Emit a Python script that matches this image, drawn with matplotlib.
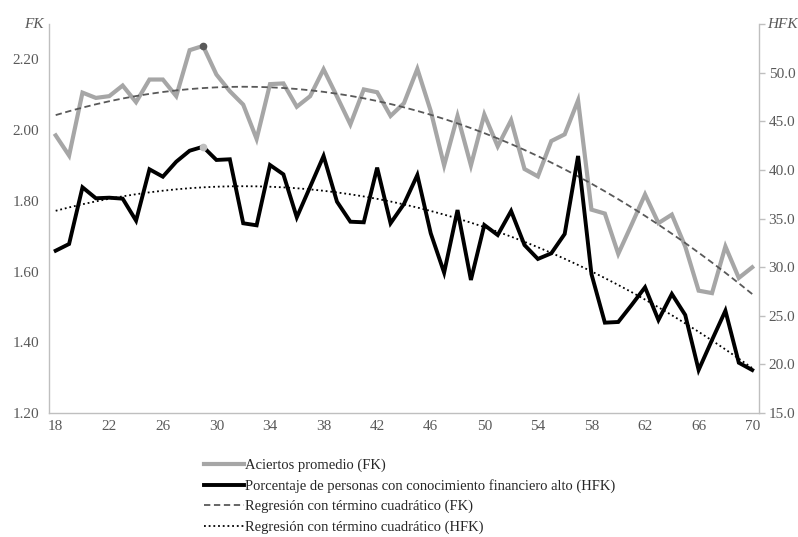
import numpy as np
import matplotlib
matplotlib.use("Agg")
import matplotlib.pyplot as plt

plt.rcParams['font.family'] = ['Liberation Serif', 'DejaVu Serif']

# age of respondents
edad = list(range(18, 71))

# average number of correct answers (left axis)
fk = [1.985, 1.928, 2.106, 2.091, 2.096, 2.126, 2.079, 2.143, 2.143, 2.096,
      2.226, 2.238, 2.157, 2.110, 2.072, 1.975, 2.130, 2.132, 2.066, 2.096,
      2.172, 2.095, 2.016, 2.115, 2.107, 2.040, 2.076, 2.173, 2.054, 1.900,
      2.040, 1.900, 2.044, 1.954, 2.028, 1.890, 1.869, 1.969, 1.988, 2.084,
      1.775, 1.764, 1.650, 1.733, 1.818, 1.737, 1.761, 1.671, 1.546, 1.539,
      1.671, 1.582, 1.612]

# % of people with high financial knowledge (right axis)
hfk = [31.69, 32.38, 38.21, 37.08, 37.14, 37.04, 34.78, 40.06, 39.30, 40.84,
       41.97, 42.38, 41.02, 41.09, 34.51, 34.30, 40.50, 39.54, 35.12, 38.27,
       41.43, 36.73, 34.67, 34.61, 40.23, 34.51, 36.49, 39.47, 33.48, 29.43,
       35.87, 28.68, 34.33, 33.30, 35.77, 32.27, 30.84, 31.42, 33.41, 41.43,
       29.28, 24.29, 24.36, 26.11, 27.93, 24.56, 27.24, 25.08, 19.42, 22.51,
       25.52, 20.17, 19.42]

x = np.array(edad)
fk_fit = np.polyval(np.polyfit(x, fk, 2), x)
hfk_fit = np.polyval(np.polyfit(x, hfk, 2), x)

gris = '#A6A6A6'
eje = '#BFBFBF'
texto = '#595959'

fig = plt.figure(figsize=(7.98, 5.37), dpi=100)
ax = fig.add_axes([0.0614, 0.2309, 0.8896, 0.7244])
ax2 = ax.twinx()

l1, = ax.plot(x, fk, color=gris, lw=3, solid_joinstyle='miter')
l3, = ax.plot(x, fk_fit, color='#595959', lw=1.3, ls=(0, (3.5, 2)))
ax.plot(29, fk[edad.index(29)], 'o', color='#595959', ms=4.5)

l2, = ax2.plot(x, hfk, color='black', lw=2.8, solid_joinstyle='miter')
l4, = ax2.plot(x, hfk_fit, color='black', lw=1.3, ls=(0, (1, 1.6)))
ax2.plot(29, hfk[edad.index(29)], 'o', color='#BFBFBF', ms=4.5)

ax.set_xlim(17.5, 70.5)
ax.set_ylim(1.2, 2.3)
ax2.set_ylim(15, 55)

ax.set_xticks(range(18, 71, 4))
ax.set_yticks([1.2, 1.4, 1.6, 1.8, 2.0, 2.2])
ax.set_yticklabels(['%.2f' % v for v in [1.2, 1.4, 1.6, 1.8, 2.0, 2.2]])
ax2.set_yticks([15, 20, 25, 30, 35, 40, 45, 50, 55])
ax2.set_yticklabels(['%.1f' % v for v in [15, 20, 25, 30, 35, 40, 45, 50]] + [''])

for a in (ax, ax2):
    for s in a.spines.values():
        s.set_visible(False)
ax.spines['left'].set_visible(True)
ax.spines['bottom'].set_visible(True)
ax2.spines['right'].set_visible(True)
for s in (ax.spines['left'], ax.spines['bottom'], ax2.spines['right']):
    s.set_color(eje)
    s.set_linewidth(1)

ax.tick_params(axis='x', length=0, pad=5, labelsize=11, labelcolor=texto)
ax.tick_params(axis='y', length=0, pad=7, labelsize=11, labelcolor=texto)
ax2.tick_params(axis='y', length=4, width=1, color=eje, pad=3,
                labelsize=11, labelcolor=texto)

ax.text(-0.008, 1.0, 'FK', transform=ax.transAxes, ha='right', va='center',
        fontsize=11, style='italic', color=texto)
ax2.text(1.012, 1.0, 'HFK', transform=ax.transAxes, ha='left', va='center',
         fontsize=11, style='italic', color=texto)

leg = fig.legend([l1, l2, l3, l4],
                 ['Aciertos promedio (FK)',
                  'Porcentaje de personas con conocimiento financiero alto (HFK)',
                  'Regresión con término cuadrático (FK)',
                  'Regresión con término cuadrático (HFK)'],
                 loc='upper left', bbox_to_anchor=(0.247, 0.16),
                 frameon=False, fontsize=10.5, handlelength=2.7,
                 handletextpad=0.05, labelspacing=0.48, borderpad=0)
for t in leg.get_texts():
    t.set_color('#262626')

fig.savefig('out.png', dpi=100)
